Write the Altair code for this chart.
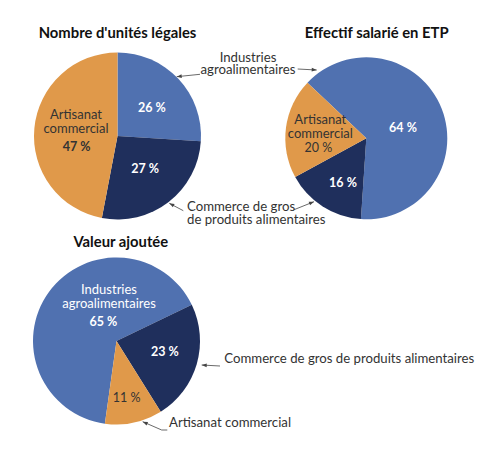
import math
import altair as alt
import pandas as pd

# ---------------- data ----------------
categories = [
    "Industries agroalimentaires",
    "Commerce de gros de produits alimentaires",
    "Artisanat commercial",
]
inside_names = ["Industries\nagroalimentaires", "Commerce de gros\nde produits alimentaires", "Artisanat\ncommercial"]
titles = ["Nombre d'unités légales", "Effectif salarié en ETP", "Valeur ajoutée"]
unites_legales = [26, 27, 47]
effectif_etp = [64, 16, 20]
valeur_ajoutee = [65, 23, 11]

colors = ["#5071b0", "#1f2f5c", "#e0994a"]
FONT = "Lato"
DARK = "#333333"
WHITE = "#ffffff"
LH = 13.5

# ---------------- layout (pixels, chart coordinates) ----------------
# label spec: (slice index, kind, bold, colour, angle shift in degrees from slice middle, radius)
pies = [
    dict(values=unites_legales, title=titles[0], cx=109.5, cy=128, r=83.5, start_deg=0.0,
         tx=109.5, ty=26.3,
         labels=[(0, "pct", True, WHITE, 4.1, 44.4),
                 (1, "pct", True, WHITE, -2.0, 43.0),
                 (2, "pct", True, DARK, -20.1, 42.2),
                 (2, "name", False, DARK, 13.2, 43.8)]),
    dict(values=effectif_etp, title=titles[1], cx=358.3, cy=130.3, r=81, start_deg=-46.6,
         tx=368.7, ty=26.3,
         labels=[(0, "pct", True, WHITE, 5.3, 38.2),
                 (1, "pct", True, WHITE, -4.9, 50.1),
                 (2, "pct", False, DARK, -19.2, 49.0),
                 (2, "name", False, DARK, 6.2, 47.3)]),
    dict(values=valeur_ajoutee, title=titles[2], cx=108.5, cy=333, r=83.5, start_deg=-172.0,
         tx=112.8, ty=235.3,
         labels=[(0, "pct", True, WHITE, 19.4, 23.4),
                 (0, "name", False, WHITE, 44.1, 44.4),
                 (1, "pct", True, WHITE, -3.4, 49.7),
                 (2, "pct", False, DARK, 1.8, 57.6)]),
]

outside_center = [dict(x=240, y=55.9, text=inside_names[0])]
outside_left = [
    dict(x=179, y=205.3, text=inside_names[1]),
    dict(x=216.3, y=358, text=categories[1]),
    dict(x=161, y=422, text=categories[2]),
]
segments = [
    dict(x1=192, y1=66.3, x2=168.7, y2=68.7),
    dict(x1=289.7, y1=61, x2=308.7, y2=62),
    dict(x1=175.3, y1=202.7, x2=161.3, y2=195.3),
    dict(x1=285.3, y1=202, x2=306, y2=193.7),
    dict(x1=212, y1=358, x2=193.7, y2=357),
    dict(x1=159.3, y1=422, x2=153.7, y2=422),
    dict(x1=153.7, y1=422, x2=134.7, y2=413.7),
]
heads = [
    dict(x=168.7, y=68.7, ang=174.1),
    dict(x=308.7, y=62, ang=3.0),
    dict(x=161.3, y=195.3, ang=207.9),
    dict(x=306, y=193.7, ang=338.2),
    dict(x=193.7, y=357, ang=183.1),
    dict(x=134.7, y=413.7, ang=203.6),
]


def pie_layer(p):
    vals = p["values"]
    total = sum(vals)
    starts = [sum(vals[:i]) for i in range(len(vals))]
    df = pd.DataFrame({"cat": categories, "value": vals, "idx": list(range(len(vals)))})
    s0 = math.radians(p["start_deg"])
    tscale = alt.Scale(domain=[0, total], range=[s0, s0 + 2 * math.pi])
    arc = alt.Chart(df).mark_arc(radius=p["r"]).encode(
        theta=alt.Theta("value:Q", stack=True, scale=tscale),
        color=alt.Color("cat:N", scale=alt.Scale(domain=categories, range=colors), legend=None),
        order=alt.Order("idx:Q"),
        x=alt.value(p["cx"]),
        y=alt.value(p["cy"]),
    )
    rows = []
    for (i, kind, bold, col, shift, rr) in p["labels"]:
        mid = starts[i] + vals[i] / 2
        txt = f"{vals[i]} %" if kind == "pct" else inside_names[i]
        group = "name" if kind == "name" else ("bold" if bold else "reg")
        rows.append(dict(t=mid + shift / 360 * total, rad=rr, text=txt, grp=group, col=col))
    lab = pd.DataFrame(rows)
    layers = [arc]
    styles = {
        "bold": dict(fontSize=12.5, fontWeight="bold"),
        "reg": dict(fontSize=12.5, fontWeight="normal"),
        "name": dict(fontSize=13, fontWeight="normal", dy=-LH / 2),
    }
    for grp, st in styles.items():
        sub = lab[lab["grp"] == grp].drop(columns=["grp"])
        if len(sub) == 0:
            continue
        layers.append(
            alt.Chart(sub).mark_text(
                font=FONT, lineBreak="\n", lineHeight=LH, align="center", baseline="middle", **st
            ).encode(
                theta=alt.Theta("t:Q", stack=None, scale=tscale),
                radius=alt.Radius("rad:Q", scale=None),
                text="text:N",
                color=alt.Color("col:N", scale=None),
                x=alt.value(p["cx"]),
                y=alt.value(p["cy"]),
            )
        )
    return alt.layer(*layers)


def px(field):
    return alt.X(f"{field}:Q", scale=None, axis=None)


def py(field):
    return alt.Y(f"{field}:Q", scale=None, axis=None)


title_df = pd.DataFrame([dict(x=p["tx"], y=p["ty"], text=p["title"]) for p in pies])
titles_layer = alt.Chart(title_df).mark_text(
    font=FONT, fontSize=14.8, fontWeight="bold", color="#111111", align="center", baseline="middle"
).encode(x=px("x"), y=py("y"), text="text:N")

out_c = alt.Chart(pd.DataFrame(outside_center)).mark_text(
    font=FONT, fontSize=13.2, color=DARK, align="center", baseline="middle", lineBreak="\n",
    lineHeight=12.8, dy=-6.4
).encode(x=px("x"), y=py("y"), text="text:N")

out_l = alt.Chart(pd.DataFrame(outside_left)).mark_text(
    font=FONT, fontSize=13.2, color=DARK, align="left", baseline="middle", lineBreak="\n",
    lineHeight=13.3, dy=-6.65
).encode(x=px("x"), y=py("y"), text="text:N")

rules = alt.Chart(pd.DataFrame(segments)).mark_rule(color="#444444", strokeWidth=0.8).encode(
    x=px("x1"), y=py("y1"), x2="x2:Q", y2="y2:Q"
)

arrow_heads = alt.Chart(pd.DataFrame(heads)).mark_point(
    shape="M0,0L-2,-0.75L-2,0.75Z", filled=True, size=25, color="#444444", opacity=1
).encode(x=px("x"), y=py("y"), angle=alt.Angle("ang:Q", scale=None))

chart = alt.layer(
    pie_layer(pies[0]), pie_layer(pies[1]), pie_layer(pies[2]),
    titles_layer, out_c, out_l, rules, arrow_heads,
).resolve_scale(theta="independent").properties(
    width=484, height=433, padding=0, autosize="none", background="#ffffff"
).configure_view(stroke=None)

chart.save("out.html", embed_options={"renderer": "svg", "actions": False})
